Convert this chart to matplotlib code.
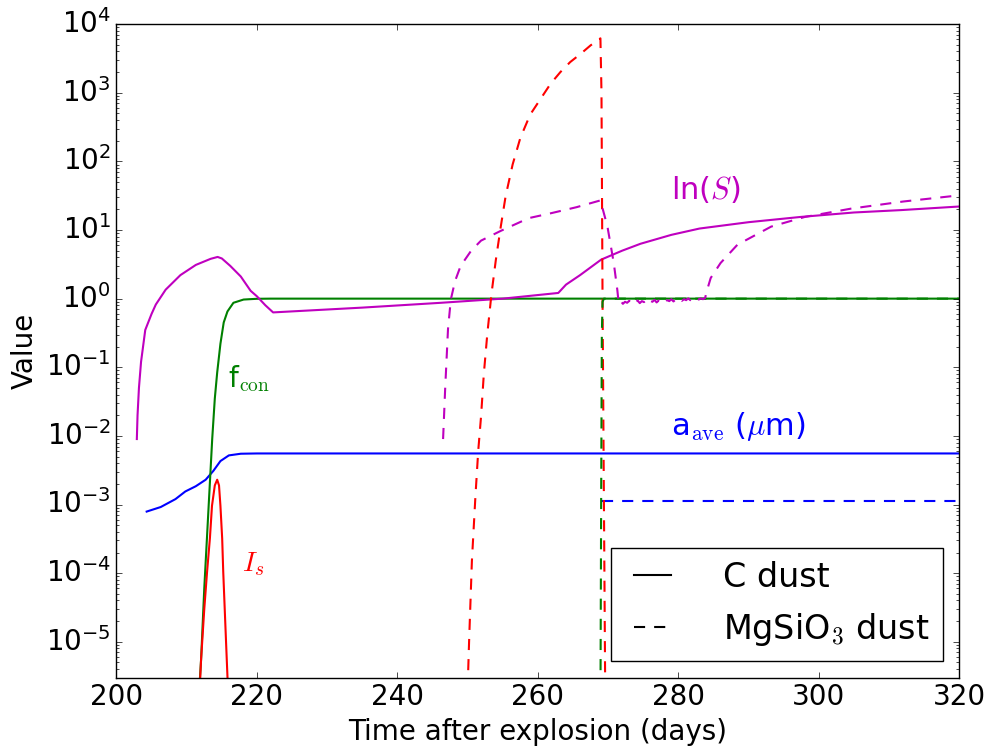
import matplotlib
matplotlib.use("Agg")
import matplotlib.pyplot as plt
from matplotlib.lines import Line2D

# C dust
c_lns_t = [202.9, 203.0, 203.2, 203.5, 204.1, 205.0, 205.6, 207.0, 209.1, 211.3, 213.4, 214.4,
           215.0, 216.2, 217.7, 219.1, 220.0, 221.2, 222.3, 235.0, 246.2, 255.0, 262.9, 264.0,
           266.0, 269.0, 272.0, 274.6, 279.0, 283.0, 290.0, 297.4, 305.0, 311.7, 320.0]
c_lns = [0.009, 0.02, 0.05, 0.12, 0.35, 0.6, 0.82, 1.35, 2.2, 3.1, 3.8, 4.05,
         3.85, 3.0, 2.1, 1.3, 1.08, 0.8, 0.63, 0.74, 0.87, 1.0, 1.21, 1.6,
         2.2, 3.7, 5.0, 6.3, 8.5, 10.5, 13.0, 15.5, 18.0, 19.5, 22.0]

c_fcon_t = [211.6, 212.05, 212.5, 213.0, 213.63, 214.0, 214.34, 214.8, 215.27, 215.8, 216.65,
            218.1, 220.0, 222.0, 320.0]
c_fcon = [1e-6, 5.6e-6, 6e-5, 5.5e-4, 0.009, 0.035, 0.084, 0.22, 0.45, 0.65, 0.87,
          0.97, 0.995, 1.0, 1.0]

c_is_t = [211.7, 212.05, 212.5, 212.9, 213.3, 213.6, 214.0, 214.34, 214.6, 214.8, 215.05,
          215.2, 215.45, 215.7, 216.0]
c_is = [1e-6, 5.6e-6, 3e-5, 1.05e-4, 3.2e-4, 9.6e-4, 1.9e-3, 2.3e-3, 1.9e-3, 9.6e-4, 3.2e-4,
        1.05e-4, 2.4e-5, 5.6e-6, 1e-6]

c_aave_t = [204.3, 206.3, 208.4, 209.8, 211.3, 212.7, 213.8, 214.8, 216.0, 217.7, 220.0, 320.0]
c_aave = [7.9e-4, 9.2e-4, 1.2e-3, 1.55e-3, 1.85e-3, 2.3e-3, 3.1e-3, 4.3e-3, 5.2e-3, 5.5e-3,
          5.55e-3, 5.55e-3]

# MgSiO3 dust
m_lns_t = [246.5, 246.8, 247.2, 247.6, 248.2, 249.0, 250.5, 251.9, 254.7, 258.7, 261.8, 265.5,
           268.9, 269.9, 270.8, 271.3,
           271.5, 271.8, 272.1, 272.4, 272.7, 273.0, 273.3, 273.6, 273.9, 274.2, 274.5, 274.8,
           275.1, 275.4, 275.7, 276.0, 276.3, 276.6, 276.9, 277.2, 277.5, 277.8, 278.1, 278.4,
           278.7, 279.0, 279.3, 279.6, 279.9, 280.2, 280.5, 280.8, 281.1, 281.4, 281.7, 282.0,
           282.3, 282.6, 282.9, 283.2, 283.5, 283.8,
           284.1, 284.6, 286.0, 288.4, 293.2, 298.0, 304.6, 312.0, 320.0]
m_lns = [0.009, 0.05, 0.36, 0.97, 1.8, 3.0, 5.0, 7.0, 9.7, 14.9, 17.5, 21.5,
         27.0, 11.2, 3.3, 1.35,
         0.86, 0.92, 0.84, 0.90, 0.87, 0.93, 0.85, 0.91, 0.88, 0.94, 0.86, 0.92,
         0.89, 0.95, 0.87, 0.93, 0.90, 0.96, 0.88, 0.94, 0.91, 0.97, 0.90, 0.95,
         0.92, 0.98, 0.91, 0.97, 0.93, 0.99, 0.93, 0.98, 0.95, 1.01, 0.95, 1.00,
         0.96, 1.02, 0.97, 1.01, 0.98, 1.02,
         1.35, 2.0, 3.3, 6.1, 11.2, 15.5, 20.5, 26.0, 32.0]

m_fcon_t = [268.9, 269.0, 269.1, 269.2, 269.4, 320.0]
m_fcon = [1e-6, 1e-3, 0.3, 0.9, 1.0, 1.0]

m_is_t = [249.9, 250.2, 250.6, 251.1, 251.5, 251.9, 252.3, 252.8, 253.4, 254.0, 254.7, 255.4,
          256.4, 257.5, 258.9, 260.4, 261.8, 263.2, 264.6, 266.1, 267.5, 268.9,
          269.05, 269.2, 269.4, 269.6]
m_is = [1e-6, 1e-5, 1.5e-4, 1.3e-3, 6e-3, 0.019, 0.08, 0.31, 1.2, 3.6, 11.0, 31.0,
        90.0, 220.0, 480.0, 820.0, 1350.0, 2000.0, 2800.0, 3700.0, 4900.0, 6200.0,
        1000.0, 1.0, 1e-3, 1e-6]

m_aave_t = [269.1, 320.0]
m_aave = [1.12e-3, 1.12e-3]

y_ticks = [1e-5, 1e-4, 1e-3, 1e-2, 1e-1, 1e0, 1e1, 1e2, 1e3, 1e4]

plt.style.use("classic")
plt.rcParams["figure.facecolor"] = "white"
plt.rcParams["savefig.facecolor"] = "white"
plt.rcParams["mathtext.fontset"] = "cm"
plt.rcParams["font.size"] = 20

fig, ax = plt.subplots(figsize=(9.87, 7.53), dpi=100)
fig.subplots_adjust(left=0.118, right=0.972, top=0.968, bottom=0.1)

lw = 1.5
dash = (8, 6.5)
ax.semilogy(c_aave_t, c_aave, "b-", lw=lw)
ax.semilogy(c_fcon_t, c_fcon, "g-", lw=lw)
ax.semilogy(c_is_t, c_is, "r-", lw=lw)
ax.semilogy(c_lns_t, c_lns, "m-", lw=lw)
ax.semilogy(m_aave_t, m_aave, "b--", lw=lw, dashes=dash)
ax.semilogy(m_is_t, m_is, "r--", lw=lw, dashes=dash)
ax.semilogy(m_fcon_t, m_fcon, "g--", lw=lw, dashes=dash)
ax.semilogy(m_lns_t, m_lns, "m--", lw=lw, dashes=dash)

ax.text(283.9, 39, r"ln($S$)", color="m", ha="center", va="center", fontsize=22)
ax.text(288.5, 0.0135, r"a$_{\rm ave}$ ($\mu$m)", color="b", ha="center", va="center", fontsize=22)
ax.text(218.8, 0.069, r"f$_{\rm con}$", color="g", ha="center", va="center", fontsize=20)
ax.text(219.5, 1.35e-4, r"$I_s$", color="r", ha="center", va="center", fontsize=20)

ax.set_xlim(200, 320)
ax.set_yticks(y_ticks)
ax.set_ylim(3e-6, 1e4)
ax.set_xlabel("Time after explosion (days)", fontsize=20)
ax.set_ylabel("Value", fontsize=20)
ax.tick_params(labelsize=20)

handles = [Line2D([], [], color="k", ls="-", lw=lw),
           Line2D([], [], color="k", ls="--", lw=lw, dashes=dash)]
ax.legend(handles, ["C dust", r"MgSiO$_3$ dust"], loc="lower right", fontsize=24,
          handlelength=1.7, handletextpad=1.25, borderpad=0.4)

fig.savefig("out.png", dpi=100)
